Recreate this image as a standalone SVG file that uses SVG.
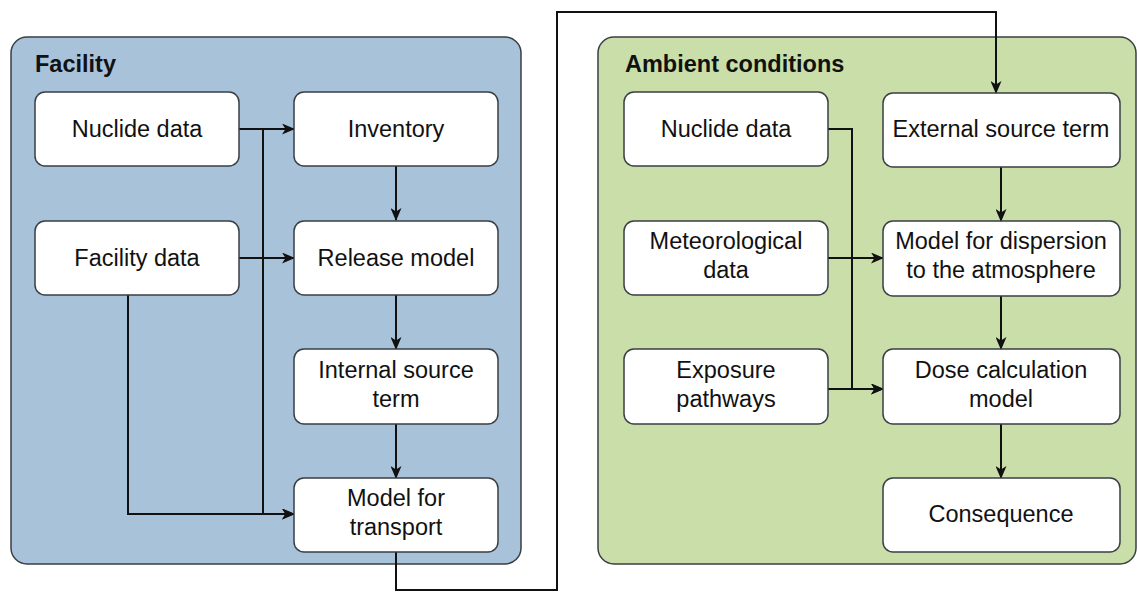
<svg xmlns="http://www.w3.org/2000/svg" width="1137" height="592" viewBox="0 0 1137 592">
<style>
.bg{fill:#ffffff}
.facility{fill:#a8c2da;stroke:#3a3f44;stroke-width:1.5}
.ambient{fill:#c9dea9;stroke:#3a3f44;stroke-width:1.5}
.box{fill:#ffffff;stroke:#3a3f44;stroke-width:1.5}
.t{font-family:"Liberation Sans",Arial,sans-serif;font-size:23.5px;fill:#111;text-anchor:middle}
.title{font-family:"Liberation Sans",Arial,sans-serif;font-size:23.5px;font-weight:bold;fill:#111}
.c{fill:none;stroke:#111;stroke-width:2}
</style>
<defs>
<marker id="arr" viewBox="0 0 13 11" refX="12" refY="5.5" markerWidth="13" markerHeight="11" markerUnits="userSpaceOnUse" orient="auto">
<path d="M0,0 L13,5.5 L0,11 L3.5,5.5 Z" fill="#111"/>
</marker>
</defs>
<rect class="bg" x="0" y="0" width="1137" height="592"/>
<g id="facility-container">
<rect class="facility" x="11" y="37" width="510" height="527" rx="16"/>
<text class="title" x="35" y="72">Facility</text>
</g>
<g id="ambient-container">
<rect class="ambient" x="598" y="37" width="538" height="527" rx="16"/>
<text class="title" x="625" y="72">Ambient conditions</text>
</g>
<g id="connectors">
<path class="c" d="M239,129 H294" marker-end="url(#arr)"/>
<path class="c" d="M263,129 V514 H294" marker-end="url(#arr)"/>
<path class="c" d="M239,258 H294" marker-end="url(#arr)"/>
<path class="c" d="M128,295 V514 H294" marker-end="url(#arr)"/>
<path class="c" d="M396,166 V220" marker-end="url(#arr)"/>
<path class="c" d="M396,295 V349" marker-end="url(#arr)"/>
<path class="c" d="M396,424 V478" marker-end="url(#arr)"/>
<path class="c" d="M396,552 V590 H557 V12 H996 V93" marker-end="url(#arr)"/>
<path class="c" d="M828,129 H852 V389 H883" marker-end="url(#arr)"/>
<path class="c" d="M828,258 H883" marker-end="url(#arr)"/>
<path class="c" d="M828,389 H883" marker-end="url(#arr)"/>
<path class="c" d="M1001,167 V221" marker-end="url(#arr)"/>
<path class="c" d="M1001,296 V349" marker-end="url(#arr)"/>
<path class="c" d="M1001,424 V478" marker-end="url(#arr)"/>
</g>
<g id="nuclide-data-facility">
<rect class="box" x="35" y="92" width="204" height="74" rx="10"/>
<text class="t" x="137" y="137">Nuclide data</text>
</g>
<g id="facility-data">
<rect class="box" x="35" y="221" width="204" height="74" rx="10"/>
<text class="t" x="137" y="266">Facility data</text>
</g>
<g id="inventory">
<rect class="box" x="294" y="92" width="204" height="74" rx="10"/>
<text class="t" x="396" y="137">Inventory</text>
</g>
<g id="release-model">
<rect class="box" x="294" y="221" width="204" height="74" rx="10"/>
<text class="t" x="396" y="266">Release model</text>
</g>
<g id="internal-source-term">
<rect class="box" x="294" y="349" width="204" height="75" rx="10"/>
<text class="t" x="396" y="378">Internal source</text>
<text class="t" x="396" y="407">term</text>
</g>
<g id="model-for-transport">
<rect class="box" x="294" y="478" width="204" height="74" rx="10"/>
<text class="t" x="396" y="506">Model for</text>
<text class="t" x="396" y="535">transport</text>
</g>
<g id="nuclide-data-ambient">
<rect class="box" x="624" y="92" width="204" height="74" rx="10"/>
<text class="t" x="726" y="137">Nuclide data</text>
</g>
<g id="meteorological-data">
<rect class="box" x="624" y="221" width="204" height="74" rx="10"/>
<text class="t" x="726" y="249">Meteorological</text>
<text class="t" x="726" y="278">data</text>
</g>
<g id="exposure-pathways">
<rect class="box" x="624" y="349" width="204" height="75" rx="10"/>
<text class="t" x="726" y="378">Exposure</text>
<text class="t" x="726" y="407">pathways</text>
</g>
<g id="external-source-term">
<rect class="box" x="883" y="93" width="237" height="74" rx="10"/>
<text class="t" x="1001" y="137">External source term</text>
</g>
<g id="model-for-dispersion">
<rect class="box" x="883" y="221" width="237" height="75" rx="10"/>
<text class="t" x="1001" y="249">Model for dispersion</text>
<text class="t" x="1001" y="278">to the atmosphere</text>
</g>
<g id="dose-calculation-model">
<rect class="box" x="883" y="349" width="237" height="75" rx="10"/>
<text class="t" x="1001" y="378">Dose calculation</text>
<text class="t" x="1001" y="407">model</text>
</g>
<g id="consequence">
<rect class="box" x="883" y="478" width="237" height="74" rx="10"/>
<text class="t" x="1001" y="522">Consequence</text>
</g>
</svg>
